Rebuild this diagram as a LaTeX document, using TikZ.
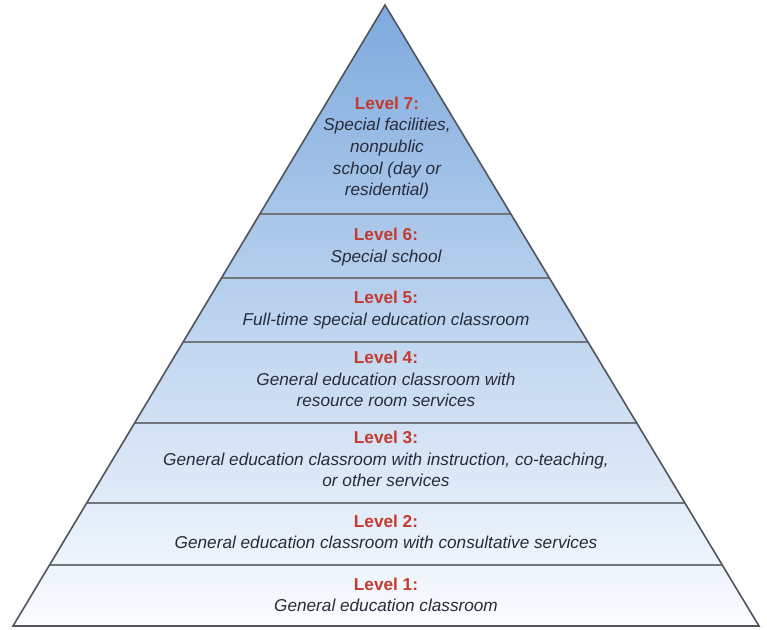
\documentclass[tikz,border=0pt]{standalone}
\usepackage{fontspec}
\setmainfont{Liberation Sans}
\usetikzlibrary{calc}

\definecolor{topblue}{RGB}{126,170,222}
\definecolor{midblue}{RGB}{186,209,236}
\definecolor{lowblue}{RGB}{250,252,255}
\definecolor{levelred}{RGB}{196,58,46}
\definecolor{textgrey}{RGB}{40,44,58}
\definecolor{edgegrey}{RGB}{80,84,92}

\tikzset{
  band/.style={draw=edgegrey!80, line width=0.8pt},
  levtext/.style={align=center, text=textgrey, font=\fontsize{8.6}{10.8}\selectfont\itshape},
}
\newcommand{\lev}[1]{{\upshape\bfseries\color{levelred}Level #1:}}

\begin{document}
\begin{tikzpicture}[x=0.5pt, y=-0.5pt]
\useasboundingbox (0,0) rectangle (767,629);

\coordinate (apex) at (385,5);
\coordinate (bl) at (13,626);
\coordinate (br) at (759,626);

\shade[top color=topblue, middle color=midblue, bottom color=lowblue] (apex) -- (bl) -- (br) -- cycle;

% boundaries between the levels
\coordinate (b76l) at ($(apex)!0.3366!(bl)$);
\coordinate (b76r) at ($(apex)!0.3366!(br)$);
\coordinate (b65l) at ($(apex)!0.4396!(bl)$);
\coordinate (b65r) at ($(apex)!0.4396!(br)$);
\coordinate (b54l) at ($(apex)!0.5427!(bl)$);
\coordinate (b54r) at ($(apex)!0.5427!(br)$);
\coordinate (b43l) at ($(apex)!0.6731!(bl)$);
\coordinate (b43r) at ($(apex)!0.6731!(br)$);
\coordinate (b32l) at ($(apex)!0.8019!(bl)$);
\coordinate (b32r) at ($(apex)!0.8019!(br)$);
\coordinate (b21l) at ($(apex)!0.9018!(bl)$);
\coordinate (b21r) at ($(apex)!0.9018!(br)$);

\draw[band] (b76l) -- (b76r);
\draw[band] (b65l) -- (b65r);
\draw[band] (b54l) -- (b54r);
\draw[band] (b43l) -- (b43r);
\draw[band] (b32l) -- (b32r);
\draw[band] (b21l) -- (b21r);

\draw[edgegrey, line width=0.8pt, line join=miter] (apex) -- (bl) -- (br) -- cycle;

\node[name=l7, levtext] at (387,148) {\lev{7}\\Special facilities,\\nonpublic\\school (day or\\residential)};
\node[name=l6, levtext] at (386,247) {\lev{6}\\Special school};
\node[name=l5, levtext] at (386,310) {\lev{5}\\Full-time special education classroom};
\node[name=l4, levtext] at (386,379) {\lev{4}\\General education classroom with\\resource room services};
\node[name=l3, levtext] at (386,459) {\lev{3}\\General education classroom with instruction, co-teaching,\\or other services};
\node[name=l2, levtext] at (386,532) {\lev{2}\\General education classroom with consultative services};
\node[name=l1, levtext] at (386,595) {\lev{1}\\General education classroom};

\end{tikzpicture}
\end{document}
